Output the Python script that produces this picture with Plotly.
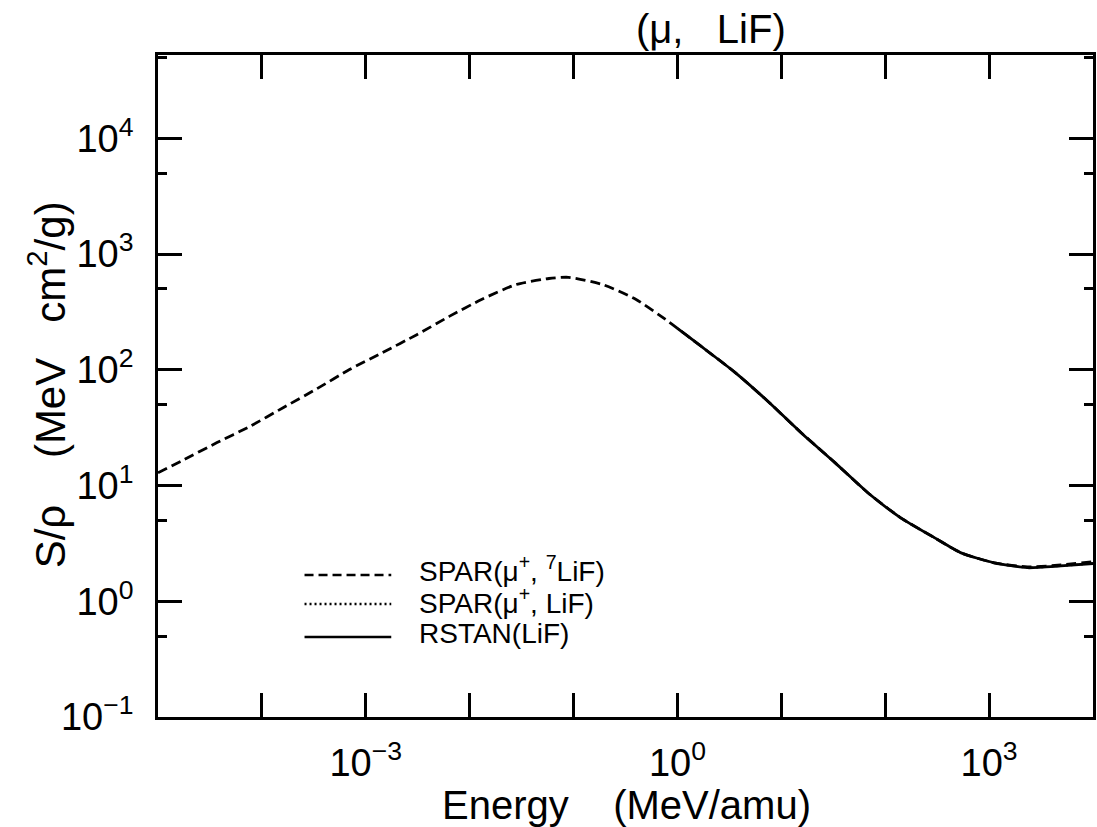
"""
阻止本领曲线图
Stopping power plot for (mu, LiF)
"""

import plotly.graph_objects as go

# 能量 (MeV/amu) 与 S/rho (MeV cm^2/g)
# Energy and stopping power
spar7_energy = [1e-5, 1.7e-5, 3.7e-5, 7.6e-5, 1.6e-4, 3.4e-4, 6.9e-4, 1.45e-3,
                3.1e-3, 6.3e-3, 1.3e-2, 2.8e-2, 5.8e-2, 8.9e-2, 0.19, 0.40,
                0.82, 1.7, 3.6, 7.5, 15.5, 33, 68, 141, 300, 537, 1120, 2340,
                4900, 10000]
spar7_value = [12.9, 16.4, 23.5, 32.3, 47, 68.7, 100, 141, 201, 288, 405, 545,
               615, 630, 546, 405, 261, 159, 94.6, 53, 28.6, 15.7, 8.67, 5.26,
               3.53, 2.62, 2.15, 1.98, 2.06, 2.2]

spar_energy = [1, 1.7, 3.6, 7.5, 15.5, 33, 68, 141, 300, 537, 1120, 2340,
               4900, 10000]
spar_value = [228, 159, 94.6, 53, 28.6, 15.7, 8.67, 5.26, 3.53, 2.62, 2.15,
              1.95, 2.02, 2.12]

rstan_energy = [1, 1.7, 3.6, 7.5, 15.5, 33, 68, 141, 300, 537, 1120, 2340,
                4900, 10000]
rstan_value = [228, 159, 94.6, 53, 28.6, 15.7, 8.67, 5.26, 3.53, 2.62, 2.15,
               1.95, 2.02, 2.12]

# 坐标轴刻度 / axis ticks
x_tick_values = [1e-5, 1e-4, 1e-3, 1e-2, 1e-1, 1, 10, 100, 1e3, 1e4]
x_tick_labels = ["", "", "10<sup>−3</sup>", "", "", "10<sup>0</sup>", "", "",
                 "10<sup>3</sup>", ""]
y_tick_values = [0.1, 1, 10, 100, 1e3, 1e4]
y_tick_labels = ["10<sup>−1</sup>", "10<sup>0</sup>", "10<sup>1</sup>",
                 "10<sup>2</sup>", "10<sup>3</sup>", "10<sup>4</sup>"]
y_minor_values = [0.5, 5, 50, 500, 5000, 50000]

# 图例 / legend entries (text, dash)
legend_labels = ["SPAR(μ<sup>+</sup>, <sup>7</sup>LiF)",
                 "SPAR(μ<sup>+</sup>, LiF)",
                 "RSTAN(LiF)"]
legend_dashes = ["9px,5px", "2px,3px", "solid"]

FONT = "Liberation Sans, Arial, Helvetica, sans-serif"

# 绘图区像素位置 / plot area in pixels
PLOT_L, PLOT_R, PLOT_T, PLOT_B = 158, 1096, 55, 717


def px_to_paper_x(px):
    return (px - PLOT_L) / (PLOT_R - PLOT_L)


def px_to_paper_y(py):
    return (PLOT_B - py) / (PLOT_B - PLOT_T)


fig = go.Figure()

# 点线在最下层，虚线与实线覆盖其上
fig.add_trace(go.Scatter(
    x=spar_energy, y=spar_value, mode="lines", name="SPAR(mu+, LiF)",
    line=dict(color="black", width=2, dash="2px,3px", shape="spline", smoothing=0.6)
))
fig.add_trace(go.Scatter(
    x=spar7_energy, y=spar7_value, mode="lines", name="SPAR(mu+, 7LiF)",
    line=dict(color="black", width=2.8, dash="10px,5px", shape="spline", smoothing=0.6)
))
fig.add_trace(go.Scatter(
    x=rstan_energy, y=rstan_value, mode="lines", name="RSTAN(LiF)",
    line=dict(color="black", width=2.8, shape="spline", smoothing=0.6)
))

axis_common = dict(
    type="log",
    showline=True, linecolor="black", linewidth=2.8, mirror="ticks",
    ticks="inside", ticklen=24, tickwidth=2.8, tickcolor="black",
    showgrid=False, zeroline=False,
    tickfont=dict(family=FONT, size=38, color="black"),
)

fig.update_xaxes(
    range=[-5, 4], tickmode="array", tickvals=x_tick_values,
    ticktext=x_tick_labels, ticklabelstandoff=10, **axis_common
)
fig.update_yaxes(
    range=[-1, 4.72], tickmode="array", tickvals=y_tick_values,
    ticktext=y_tick_labels, ticklabelstandoff=14,
    minor=dict(tickmode="array", tickvals=y_minor_values, ticks="inside",
               ticklen=9, tickwidth=2.8, tickcolor="black", showgrid=False),
    **axis_common
)

annotations = [
    dict(text="(μ,   LiF)", x=px_to_paper_x(713), y=1.0, xref="paper", yref="paper",
         xanchor="center", yanchor="bottom", yshift=2, showarrow=False,
         font=dict(family=FONT, size=40, color="black")),
    dict(text="Energy    (MeV/amu)", x=px_to_paper_x(628), y=px_to_paper_y(805),
         xref="paper", yref="paper", xanchor="center", yanchor="middle",
         showarrow=False, font=dict(family=FONT, size=40, color="black")),
    dict(text="S/ρ    (MeV   cm<sup>2</sup>/g)", x=px_to_paper_x(47),
         y=px_to_paper_y(385), xref="paper", yref="paper",
         xanchor="center", yanchor="middle", textangle=-90,
         showarrow=False, font=dict(family=FONT, size=42, color="black")),
]

# 手绘图例 / hand-drawn legend
shapes = []
legend_text_rows = [569, 601, 633]
legend_line_rows = [575, 604, 637]
for label, dash, text_row, line_row in zip(legend_labels, legend_dashes,
                                           legend_text_rows, legend_line_rows):
    shapes.append(dict(type="line", xref="paper", yref="paper",
                       x0=px_to_paper_x(305), x1=px_to_paper_x(392),
                       y0=px_to_paper_y(line_row), y1=px_to_paper_y(line_row),
                       line=dict(color="black", width=2.4, dash=dash)))
    annotations.append(dict(text=label, x=px_to_paper_x(418), y=px_to_paper_y(text_row),
                            xref="paper", yref="paper",
                            xanchor="left", yanchor="middle", showarrow=False,
                            font=dict(family=FONT, size=28, color="black")))

fig.update_layout(
    width=1097, height=827,
    margin=dict(l=PLOT_L, r=1097 - PLOT_R, t=PLOT_T, b=827 - PLOT_B),
    paper_bgcolor="white", plot_bgcolor="white",
    showlegend=False,
    annotations=annotations,
    shapes=shapes,
)

# 去掉页面默认边距 / remove default body margin of the page
fig.write_html(
    "out.html",
    config={"displayModeBar": False},
    post_script="document.body.style.margin='0';document.body.style.overflow='hidden';",
)
